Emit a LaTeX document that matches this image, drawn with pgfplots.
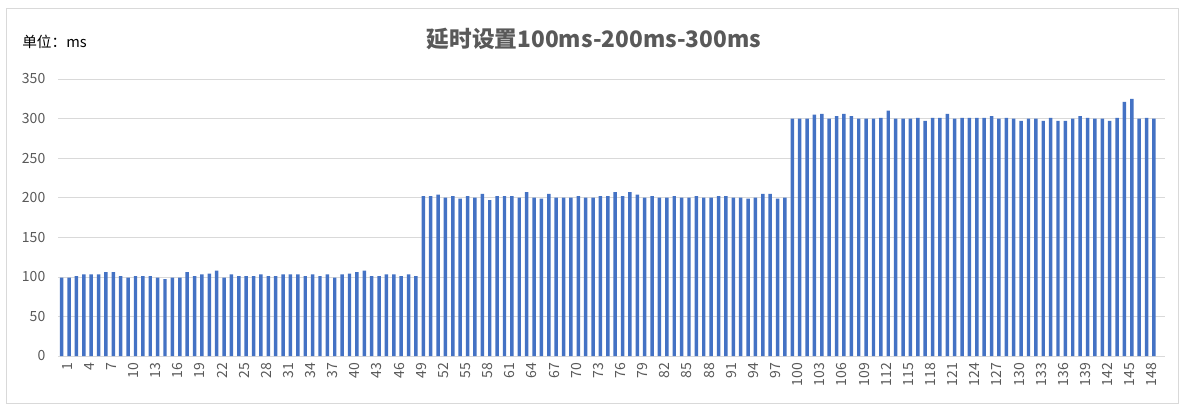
\documentclass[border=0pt]{standalone}
\usepackage{fontspec}
\setmainfont{Noto Sans CJK SC}
\usepackage{pgfplots}
\usepackage{pgfplotstable}
\pgfplotsset{compat=1.18}
\definecolor{barblue}{HTML}{4472C4}
\definecolor{txtgray}{HTML}{595959}
\definecolor{gridgray}{HTML}{D9D9D9}

% delay per sample, ms
\pgfplotstableread{
n v
1 99
2 99
3 101
4 103
5 103
6 103
7 106
8 106
9 101
10 99
11 101
12 101
13 101
14 99
15 97
16 99
17 99
18 106
19 101
20 103
21 104
22 108
23 99
24 103
25 101
26 101
27 101
28 103
29 101
30 101
31 103
32 103
33 103
34 101
35 103
36 101
37 103
38 99
39 103
40 104
41 106
42 108
43 101
44 101
45 103
46 103
47 101
48 103
49 101
50 202
51 202
52 204
53 200
54 202
55 199
56 202
57 200
58 205
59 197
60 202
61 202
62 202
63 200
64 207
65 200
66 199
67 205
68 200
69 200
70 200
71 202
72 200
73 200
74 202
75 202
76 207
77 202
78 207
79 204
80 200
81 202
82 200
83 200
84 202
85 200
86 200
87 202
88 200
89 200
90 202
91 202
92 200
93 200
94 199
95 200
96 205
97 205
98 199
99 200
100 300
101 300
102 300
103 305
104 306
105 300
106 303
107 306
108 303
109 300
110 300
111 300
112 301
113 310
114 300
115 300
116 300
117 301
118 297
119 301
120 301
121 306
122 300
123 301
124 301
125 301
126 301
127 303
128 300
129 301
130 300
131 297
132 300
133 300
134 297
135 301
136 297
137 297
138 300
139 303
140 301
141 300
142 300
143 297
144 301
145 321
146 325
147 300
148 301
149 300
}\delays

\begin{document}
\begin{tikzpicture}
\begin{scope}[x=0.75pt,y=0.75pt]
  \path[use as bounding box,fill=white] (0,0) rectangle (1184,405);
  \draw[gridgray] (6.5,2) rectangle (1178,397);
  \node[anchor=center,text=txtgray,font=\fontsize{17}{17}\selectfont\bfseries] at (594,366) {延时设置100ms-200ms-300ms};
  \node[anchor=west,inner sep=0pt,text=black,font=\fontsize{11}{11}\selectfont] at (22,363) {单位：ms};
\end{scope}
\begin{axis}[
    at={(43.5pt,36.75pt)}, anchor=south west,
    scale only axis,
    width=830.25pt, height=207.75pt,
    xmin=0.5, xmax=150.5,
    ymin=0, ymax=350,
    ytick={0,50,...,350},
    xtick={1,4,...,148},
    axis x line*=bottom, axis y line*=left,
    x axis line style={gridgray},
    y axis line style={draw=none},
    major tick length=0pt,
    ymajorgrids, grid style={gridgray},
    /pgf/number format/assume math mode=true,
    ticklabel style={text=txtgray,font=\fontsize{10.5}{10.5}\selectfont},
    yticklabel style={xshift=-6pt},
    xticklabel style={rotate=90,anchor=east,yshift=-4pt,xshift=-1.5pt},
    ybar, bar width=2.6pt, bar shift=0pt,
]
\addplot[draw=none,fill=barblue] table[x=n,y=v] {\delays};
\end{axis}
\end{tikzpicture}
\end{document}
